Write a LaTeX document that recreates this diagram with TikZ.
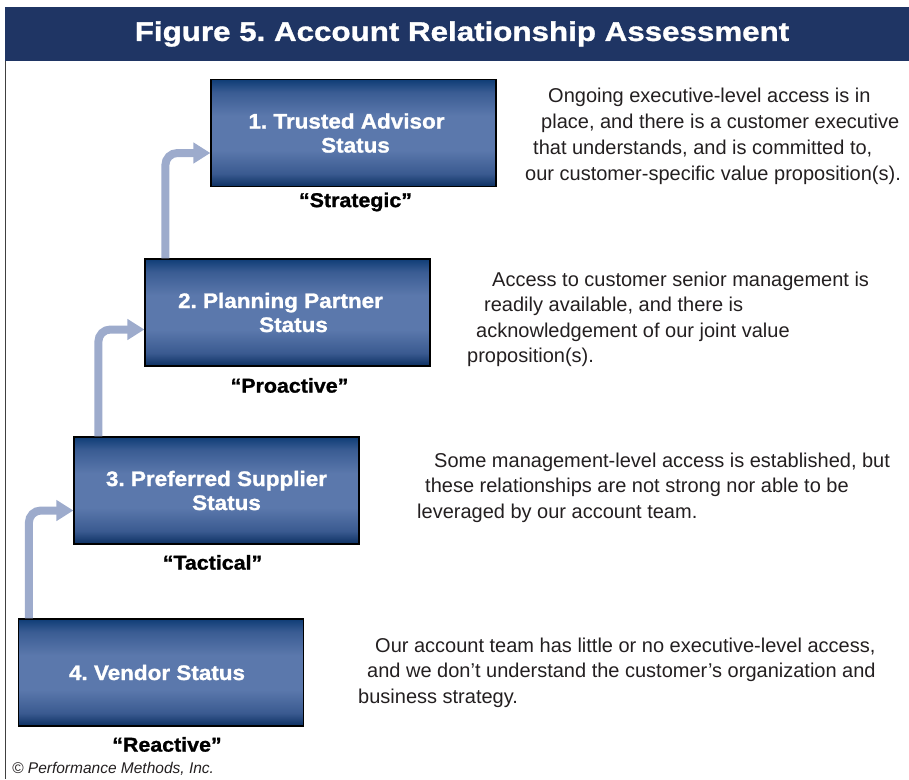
\documentclass[tikz,border=0pt]{standalone}
\usepackage{fontspec}
\setmainfont{Liberation Sans}
\newfontfamily\headfont[FakeStretch=1.16,FakeBold=1.2]{Liberation Sans}
\newfontfamily\boxfont[FakeStretch=1.07,FakeBold=1.2]{Liberation Sans}
\usetikzlibrary{arrows.meta}
\frenchspacing

\definecolor{barblue}{HTML}{1F3564}
\definecolor{flowblue}{HTML}{9DABCC}
\definecolor{inkgray}{HTML}{231F20}
\definecolor{boxtop}{HTML}{0F3D76}
\definecolor{boxhigh}{HTML}{3A5C93}
\definecolor{boxmid}{HTML}{5B78AC}
\definecolor{boxlow}{HTML}{3A5A90}
\definecolor{boxbot}{HTML}{0C3062}

% vertical fill of the status boxes: dark edges, lighter band in the middle
\pgfdeclareverticalshading{stepshade}{100bp}{%
  color(0bp)=(boxbot); color(25bp)=(boxbot); color(31bp)=(boxlow);
  color(42bp)=(boxmid); color(58bp)=(boxmid); color(69bp)=(boxhigh);
  color(75bp)=(boxtop); color(100bp)=(boxtop)}

\newcommand\firststrut{\rule{0pt}{15pt}}

\tikzset{
  stepbox/.style={draw=black, line width=1.2pt, shade, shading=stepshade,
    minimum width=285pt, minimum height=107pt, inner sep=0pt,
    text=white, align=center,
    font=\boxfont\bfseries\fontsize{21}{24}\selectfont},
  quote/.style={anchor=base, inner sep=0pt, text=black,
    font=\boxfont\bfseries\fontsize{20}{24}\selectfont},
  note/.style={anchor=north west, inner sep=0pt, align=left, text=inkgray,
    font=\fontsize{20}{25.5}\selectfont},
  flow/.style={draw=flowblue, line width=8pt, rounded corners=12pt,
    -{Triangle[length=17pt,width=20pt]}},
}

\begin{document}
\begin{tikzpicture}[x=1pt,y=-1pt]
\useasboundingbox (0,0) rectangle (909,779);

% heading band and left rule of the frame
\fill[barblue] (5,7) rectangle (909,61);
\node[text=white, inner sep=0pt, font=\headfont\bfseries\fontsize{27}{30}\selectfont]
  (title) at (462,34) {Figure 5. Account Relationship Assessment};
\draw[line width=1.5pt, draw=black!75] (5.5,61) -- (5.5,779);

% status boxes
\node[stepbox] (b1) at (353.5,133)   {1. Trusted Advisor\hspace*{14pt}\\\hspace*{4pt}Status};
\node[stepbox] (b2) at (287.5,312.5) {2. Planning Partner\hspace*{14pt}\\\hspace*{12pt}Status};
\node[stepbox] (b3) at (216.5,490.5) {3. Preferred Supplier\\\hspace*{20pt}Status};
\node[stepbox] (b4) at (161,672.5)   {4. Vendor Status\hspace*{8pt}};

% mode labels under the boxes
\node[quote] (q1) at ([xshift=2pt,yshift=-20pt]b1.south) {“Strategic”};
\node[quote] (q2) at ([xshift=2pt,yshift=-26pt]b2.south) {“Proactive”};
\node[quote] (q3) at ([xshift=-4pt,yshift=-25pt]b3.south) {“Tactical”};
\node[quote] (q4) at ([xshift=6pt,yshift=-25pt]b4.south) {“Reactive”};

% progression arrows
\draw[flow] ([xshift=21pt]b2.north west) |- ([yshift=-20pt]b1.west);
\draw[flow] ([xshift=25pt]b3.north west) |- ([yshift=-17pt]b2.west);
\draw[flow] ([xshift=11pt]b4.north west) |- ([yshift=-20pt]b3.west);

% descriptions
\node[note, font=\fontsize{20}{26}\selectfont] (d1) at (525,87)
  {\firststrut\hspace*{23pt}Ongoing executive-level access is in\\
  \hspace*{16pt}place, and there is a customer executive\\
  \hspace*{8pt}that understands, and is committed to,\\
  our customer-specific value proposition(s).};
\node[note] (d2) at (467,271) {\firststrut\hspace*{25pt}Access to customer senior management is\\
  \hspace*{17pt}readily available, and there is\\
  \hspace*{9pt}acknowledgement of our joint value\\
  proposition(s).};
\node[note] (d3) at (417,452) {\firststrut\hspace*{17pt}Some management-level access is established, but\\
  \hspace*{8pt}these relationships are not strong nor able to be\\
  leveraged by our account team.};
\node[note] (d4) at (358,637) {\firststrut\hspace*{17pt}Our account team has little or no executive-level access,\\
  \hspace*{9pt}and we don’t understand the customer’s organization and\\
  business strategy.};

% credit line
\node[anchor=base west, inner sep=0pt, text=inkgray,
  font=\itshape\fontsize{15.5}{18}\selectfont] (credit) at (12,773)
  {© Performance Methods, Inc.};
\end{tikzpicture}
\end{document}
